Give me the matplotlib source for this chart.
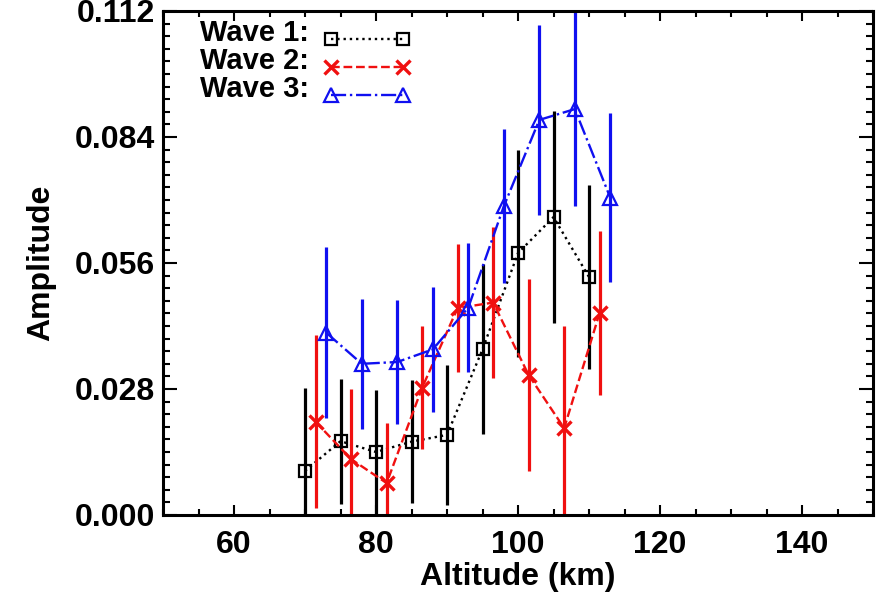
import matplotlib
matplotlib.use("Agg")
import matplotlib.pyplot as plt
from matplotlib.ticker import MultipleLocator
from matplotlib.legend_handler import HandlerLine2D

plt.rcParams['font.family'] = ['Liberation Sans', 'DejaVu Sans']
plt.rcParams['font.weight'] = 'bold'

# Data
alt1 = [70, 75, 80, 85, 90, 95, 100, 105, 110]
amp1 = [0.0098, 0.0164, 0.0140, 0.0163, 0.0178, 0.0368, 0.0582, 0.0662, 0.0529]
err1 = [0.0184, 0.0139, 0.0138, 0.0137, 0.0156, 0.0189, 0.0230, 0.0235, 0.0205]

alt2 = [71.5, 76.5, 81.5, 86.5, 91.5, 96.5, 101.5, 106.5, 111.5]
amp2 = [0.0207, 0.0124, 0.0071, 0.0283, 0.0460, 0.0472, 0.0311, 0.0193, 0.0449]
err2 = [0.0192, 0.0156, 0.0133, 0.0137, 0.0142, 0.0167, 0.0213, 0.0227, 0.0182]

alt3 = [73, 78, 83, 88, 93, 98, 103, 108, 113]
amp3 = [0.0405, 0.0336, 0.0340, 0.0368, 0.0461, 0.0686, 0.0878, 0.0902, 0.0705]
err3 = [0.0190, 0.0144, 0.0137, 0.0139, 0.0143, 0.0171, 0.0211, 0.0215, 0.0188]

labels = ['Wave 1:', 'Wave 2:', 'Wave 3:']
yticks = [0.000, 0.028, 0.056, 0.084, 0.112]
xticks = [60, 80, 100, 120, 140]


class LoweredHandler(HandlerLine2D):
    def create_artists(self, legend, orig_handle, xdescent, ydescent,
                       width, height, fontsize, trans):
        arts = super().create_artists(legend, orig_handle, xdescent, ydescent,
                                      width, height, fontsize, trans)
        for a in arts:
            a.set_ydata([y - 0.28 * fontsize for y in a.get_ydata()])
        return arts


fig = plt.figure(figsize=(8.8, 6.03), dpi=100)
ax = fig.add_axes([163/880, (603-515)/603, (873-163)/880, (515-11)/603])

specs = [
    (alt1, amp1, err1, 'black', ':', 's', 9, 1.6, labels[0]),
    (alt2, amp2, err2, '#f01010', '--', 'x', 10, 2.4, labels[1]),
    (alt3, amp3, err3, '#1010f0', '-.', '^', 10, 1.6, labels[2]),
]
handles = []
for x, y, e, c, ls, mk, ms, mew, lab in specs:
    ax.errorbar(x, y, yerr=e, fmt='none', ecolor=c, elinewidth=2.3, capsize=0)
    h, = ax.plot(x, y, color=c, linestyle=ls, linewidth=1.7, marker=mk,
                 markersize=ms, markerfacecolor='none', markeredgecolor=c,
                 markeredgewidth=mew, label=lab)
    handles.append(h)

ax.set_xlim(50, 150)
ax.set_ylim(0, 0.112)
ax.set_xticks(xticks)
ax.set_yticks(yticks)
ax.set_yticklabels([f"{v:.3f}" for v in yticks])
ax.xaxis.set_minor_locator(MultipleLocator(5))
ax.yaxis.set_minor_locator(MultipleLocator(0.0028))
ax.tick_params(which='both', direction='in', top=True, right=True, width=1.5,
               labelsize=23)
ax.tick_params(axis='x', which='major', length=7, pad=11)
ax.tick_params(axis='x', which='minor', length=4)
ax.tick_params(axis='y', which='major', length=10, pad=6)
ax.tick_params(axis='y', which='minor', length=5)
for sp in ax.spines.values():
    sp.set_linewidth(2.2)
for lbl in ax.get_xticklabels() + ax.get_yticklabels():
    lbl.set_fontweight('bold')

ax.set_xlabel('Altitude (km)', fontsize=23, fontweight='bold', labelpad=1)
ax.set_ylabel('Amplitude', fontsize=23, fontweight='bold', labelpad=13)

leg = ax.legend(handles=handles, loc='upper left', markerfirst=False, numpoints=2,
                frameon=False, fontsize=21, handlelength=3.07, handletextpad=0.45,
                labelspacing=0.0, borderaxespad=0.0, borderpad=0.0,
                bbox_to_anchor=(0.052, 0.985),
                handler_map={h: LoweredHandler() for h in handles})
for t in leg.get_texts():
    t.set_fontweight('bold')

fig.savefig('out.png', dpi=100)
